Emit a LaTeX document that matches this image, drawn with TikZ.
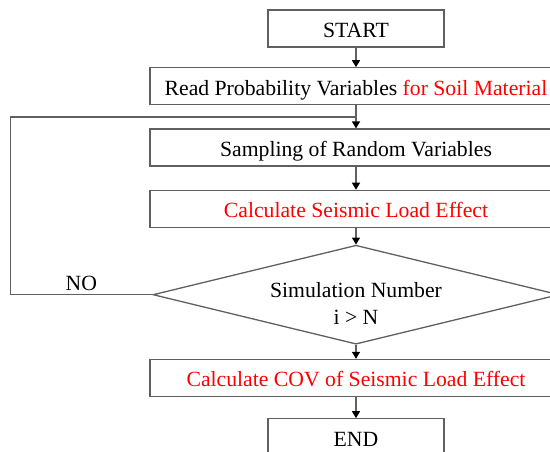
\documentclass[tikz,border=0pt]{standalone}
\usepackage{fontspec}
\setmainfont{Liberation Serif}
\usetikzlibrary{arrows.meta,positioning,shapes.geometric}
\definecolor{linegray}{RGB}{96,96,96}

\begin{document}
\begin{tikzpicture}[x=1pt,y=-1pt,
  every node/.style={font=\fontsize{21.7pt}{27pt}\selectfont},
  endbox/.style={draw=linegray,line width=1.3pt,minimum width=176pt,
    minimum height=37pt,text height=17.5pt,text depth=0pt},
  stepbox/.style={endbox,minimum width=412pt},
  decide/.style={diamond,draw=linegray,line width=1.3pt,aspect=4.1,
    minimum width=406pt,minimum height=99pt,inner sep=0pt},
  line/.style={draw=linegray,line width=1.3pt},
  >={Triangle[length=7pt,width=8pt,color=black]}]

        \useasboundingbox (0,0) rectangle (550,452);
        \clip (0,0) rectangle (550,452);

        \node[endbox]   (Start)  at (356,28.5)               {START};
        \node[stepbox]  (Read)   [below=19.5pt of Start]     {Read Probability Variables \textcolor{red}{for Soil Material}};
        \node[stepbox]  (Sample) [below=23pt of Read]        {Sampling of Random Variables};
        \node[stepbox]  (Calc)   [below=23pt of Sample]      {\textcolor{red}{Calculate Seismic Load Effect}};
        \node[decide]   (Test)   [below=16.5pt of Calc,
              label={[align=center,yshift=-9pt]center:Simulation Number\\ i > N}] {};
        \node[stepbox]  (Cov)    [below=14pt of Test]        {\textcolor{red}{Calculate COV of Seismic Load Effect}};
        \node[endbox]   (End)    [below=21pt of Cov]         {END};

        \path (Read.south) -- coordinate[midway] (Merge) (Sample.north);

        \path[->,line]
                  (Start)  edge (Read)
                  (Read)   edge (Sample)
                  (Sample) edge (Calc)
                  (Calc)   edge (Test)
                  (Test)   edge (Cov)
                  (Cov)    edge (End);

        % loop back when i <= N
        \draw[line] (Test.west) -- node[above] {NO} ++(-142,0) |- (Merge);
      \end{tikzpicture}
\end{document}
